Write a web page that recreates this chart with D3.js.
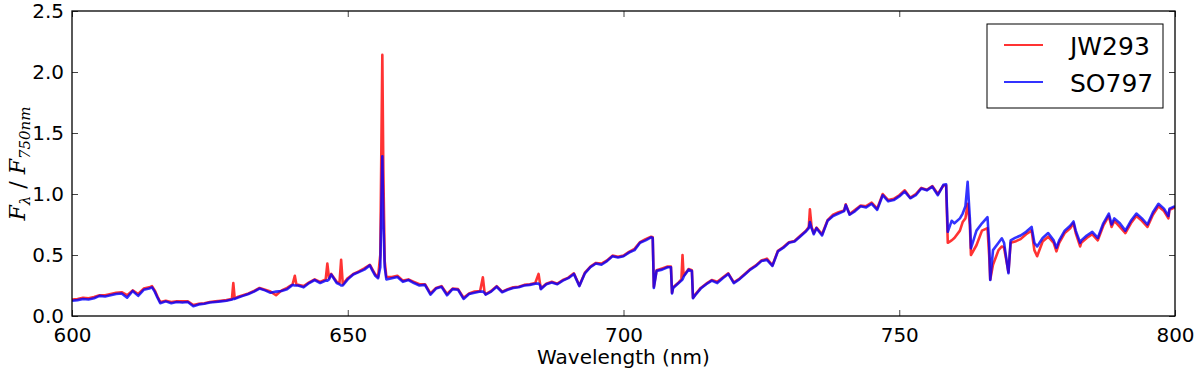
<!DOCTYPE html>
<html>
<head>
<meta charset="utf-8">
<script src="https://cdn.jsdelivr.net/npm/d3@7"></script>
<style>
  body { margin: 0; background: #fff; }
  text { font-family: "DejaVu Sans", sans-serif; }
</style>
</head>
<body>
<svg id="chart" width="1200" height="377"></svg>
<script>
// wavelength grid (nm), shared by both spectra
var wavelength = [
  600,601,602,603,604,605,606,607,608,609,610,611,612,613,614,614.5,615,615.5,616,617,618,619,620,621,622,623,624,625,626,627,628,629,629.25,629.5,
  630,631,632,633,634,635,636,637,638,639,640,640.4,640.7,641,642,643,644,645,646,646.3,646.6,647,648,648.5,648.8,649.1,
  650,651,652,653,654,654.5,655,655.5,655.9,656.1,656.27,656.45,656.7,657,658,659,660,661,662,663,664,665,666,667,668,669,
  670,671,672,673,674,674.5,674.8,675,676,677,678,679,680,681,682,683,684,684.6,684.9,685,686,687,688,689,
  690,691,692,693,694,695,696,697,698,699,700,701,702,703,704,705,705.3,705.5,706,707,708,708.6,708.8,709,
  710,710.5,710.7,710.9,711,711.8,712.4,712.6,713,714,715,716,717,718,719,720,721,722,723,724,725,726,727,728,729,
  730,731,732,733,733.6,733.8,734.1,734.5,735,736,737,738,739,740,740.3,741,742,743,744,745,746,747,748,749,
  750,751,752,753,754,755,756,757,758,758.5,758.8,759.5,760,761,761.5,762,762.4,762.8,763,764,765,766,766.3,766.5,767,768,768.6,769,769.8,
  770.2,771,772,773,774,774.5,775,776,777,778,778.5,779,780,781,781.6,782,782.8,783,784,785,786,787,788,788.5,789,
  790,791,792,793,794,795,796,797,798,798.8,799,800
];

var jw293 = [
  .135,.14,.15,.145,.155,.17,.17,.18,.19,.195,.17,.21,.18,.225,.235,.245,.21,.16,.115,.125,.115,.12,.12,.12,.09,.1,.105,.115,.12,.125,.13,.14,.27,.145,
  .155,.17,.185,.205,.23,.215,.2,.17,.21,.23,.26,.33,.255,.255,.245,.275,.3,.28,.3,.43,.31,.345,.28,.27,.46,.26,
  .31,.345,.365,.39,.42,.38,.34,.32,.5,1.4,2.14,1.2,.45,.32,.32,.33,.29,.3,.28,.26,.26,.185,.23,.245,.18,.225,
  .22,.15,.185,.2,.205,.317,.195,.18,.205,.245,.2,.22,.235,.24,.255,.26,.27,.345,.255,.225,.265,.28,.265,.295,
  .315,.35,.25,.355,.405,.435,.43,.455,.495,.485,.495,.525,.55,.605,.63,.65,.645,.24,.375,.39,.405,.405,.19,.235,
  .275,.3,.5,.33,.335,.385,.375,.15,.175,.23,.265,.295,.28,.315,.35,.275,.305,.345,.385,.415,.455,.47,.415,.535,.565,
  .605,.615,.655,.695,.73,.875,.73,.68,.725,.67,.785,.83,.85,.865,.915,.835,.87,.905,.9,.93,.88,1.0,.95,.96,
  .99,1.03,.97,1.0,1.05,1.035,1.065,1.0,1.07,1.07,.6,.62,.64,.7,.77,.8,.92,.75,.5,.58,.7,.72,.5,.3,.42,.54,.57,.56,.36,
  .6,.61,.63,.67,.7,.54,.49,.61,.65,.6,.53,.6,.68,.72,.76,.68,.57,.6,.64,.67,.62,.74,.82,.73,.78,
  .73,.68,.76,.82,.78,.73,.83,.9,.86,.8,.87,.89
];

var so797 = [
  .125,.13,.14,.135,.145,.165,.16,.17,.18,.185,.15,.205,.165,.215,.225,.235,.2,.15,.105,.12,.105,.115,.11,.115,.08,.095,.1,.11,.115,.12,.125,.135,.14,.14,
  .15,.165,.18,.2,.225,.21,.19,.2,.205,.22,.255,.25,.25,.25,.235,.27,.295,.27,.29,.29,.3,.34,.27,.26,.25,.25,
  .3,.34,.36,.38,.415,.37,.33,.31,.4,.9,1.31,.8,.4,.3,.31,.32,.28,.295,.27,.25,.255,.175,.225,.24,.17,.22,
  .215,.14,.18,.19,.2,.2,.19,.175,.2,.24,.195,.215,.23,.235,.25,.255,.265,.265,.25,.22,.26,.275,.26,.29,
  .31,.345,.245,.35,.4,.43,.42,.45,.49,.48,.49,.52,.54,.6,.62,.645,.64,.23,.37,.38,.4,.4,.185,.23,
  .27,.29,.3,.32,.33,.38,.37,.145,.17,.225,.26,.29,.27,.31,.345,.27,.3,.34,.38,.41,.45,.46,.41,.53,.56,
  .6,.61,.65,.69,.72,.77,.72,.67,.72,.66,.78,.82,.84,.86,.91,.83,.86,.9,.89,.92,.87,.99,.94,.95,
  .98,1.02,.965,.99,1.045,1.03,1.06,.99,1.075,1.08,.69,.78,.76,.8,.84,.9,1.1,.8,.555,.7,.76,.81,.6,.295,.54,.6,.637,.6,.35,
  .62,.64,.66,.69,.73,.6,.57,.64,.68,.62,.56,.62,.7,.74,.775,.7,.6,.62,.66,.69,.64,.76,.84,.75,.8,
  .76,.7,.78,.84,.8,.75,.85,.92,.88,.82,.88,.9
];

var xTicks = [600, 650, 700, 750, 800];
var yTicks = [0.0, 0.5, 1.0, 1.5, 2.0, 2.5];
var seriesNames = ["JW293", "SO797"];
var seriesColors = ["#ff0000", "#0000ff"];

var margin = {left: 72, right: 25, top: 11, bottom: 61};
var width = 1200 - margin.left - margin.right;
var height = 377 - margin.top - margin.bottom;

var svg = d3.select("#chart");
var g = svg.append("g").attr("transform", "translate(" + margin.left + "," + margin.top + ")");

var x = d3.scaleLinear().domain([600, 800]).range([0, width]);
var y = d3.scaleLinear().domain([0, 2.5]).range([height, 0]);

g.append("clipPath").attr("id", "clip")
  .append("rect").attr("width", width).attr("height", height);

var line = d3.line()
  .x(function(d, i){ return x(wavelength[i]); })
  .y(function(d){ return y(d); });

[jw293, so797].forEach(function(s, k){
  g.append("path")
    .datum(s)
    .attr("clip-path", "url(#clip)")
    .attr("fill", "none")
    .attr("stroke", seriesColors[k])
    .attr("stroke-opacity", 0.8)
    .attr("stroke-width", 2.6)
    .attr("stroke-linejoin", "round")
    .attr("d", line);
});

// axes, matplotlib classic look: ticks inside on all four sides
var fmtY = d3.format(".1f");
g.append("g").attr("transform", "translate(0," + height + ")")
  .call(d3.axisBottom(x).tickValues(xTicks).tickSizeInner(-6).tickSizeOuter(0).tickPadding(12).tickFormat(d3.format("d")));
g.append("g")
  .call(d3.axisTop(x).tickValues(xTicks).tickSizeInner(-6).tickSizeOuter(0).tickFormat(""));
g.append("g")
  .call(d3.axisLeft(y).tickValues(yTicks).tickSizeInner(-6).tickSizeOuter(0).tickPadding(8).tickFormat(fmtY));
g.append("g").attr("transform", "translate(" + width + ",0)")
  .call(d3.axisRight(y).tickValues(yTicks).tickSizeInner(-6).tickSizeOuter(0).tickFormat(""));

g.selectAll(".domain").remove();
g.selectAll(".tick line").attr("stroke", "#444").attr("stroke-width", 1);
g.selectAll(".tick text").attr("font-size", 20).attr("fill", "#000")
  .style("font-family", "'DejaVu Sans', sans-serif");

g.append("rect")
  .attr("width", width).attr("height", height)
  .attr("fill", "none").attr("stroke", "#000").attr("stroke-width", 1.3);

// axis labels
svg.append("text")
  .attr("x", margin.left + width / 2).attr("y", 364)
  .attr("text-anchor", "middle").attr("font-size", 20)
  .text("Wavelength (nm)");

var ylab = svg.append("text")
  .attr("transform", "translate(25," + (margin.top + height / 2) + ") rotate(-90)")
  .attr("text-anchor", "middle")
  .style("font-family", "'DejaVu Serif', serif").attr("font-size", 22);
ylab.append("tspan").attr("font-style", "italic").text("F");
ylab.append("tspan").attr("font-style", "italic").attr("font-size", 15).attr("dy", 5).text("λ");
ylab.append("tspan").attr("dy", -5).text(" / ");
ylab.append("tspan").attr("font-style", "italic").text("F");
ylab.append("tspan").attr("font-style", "italic").attr("font-size", 15).attr("dy", 5).text("750nm");

// legend
var legend = svg.append("g").attr("transform", "translate(987,24)");
legend.append("rect").attr("width", 176).attr("height", 84)
  .attr("fill", "#fff").attr("stroke", "#000").attr("stroke-width", 1);
seriesNames.forEach(function(name, i){
  var ly = 21 + i * 37;
  legend.append("line").attr("x1", 17).attr("x2", 56).attr("y1", ly).attr("y2", ly)
    .attr("stroke", seriesColors[i]).attr("stroke-opacity", 0.8).attr("stroke-width", 2.2);
  legend.append("text").attr("x", 83).attr("y", ly + 10).attr("font-size", 25).text(name);
});
</script>
</body>
</html>
